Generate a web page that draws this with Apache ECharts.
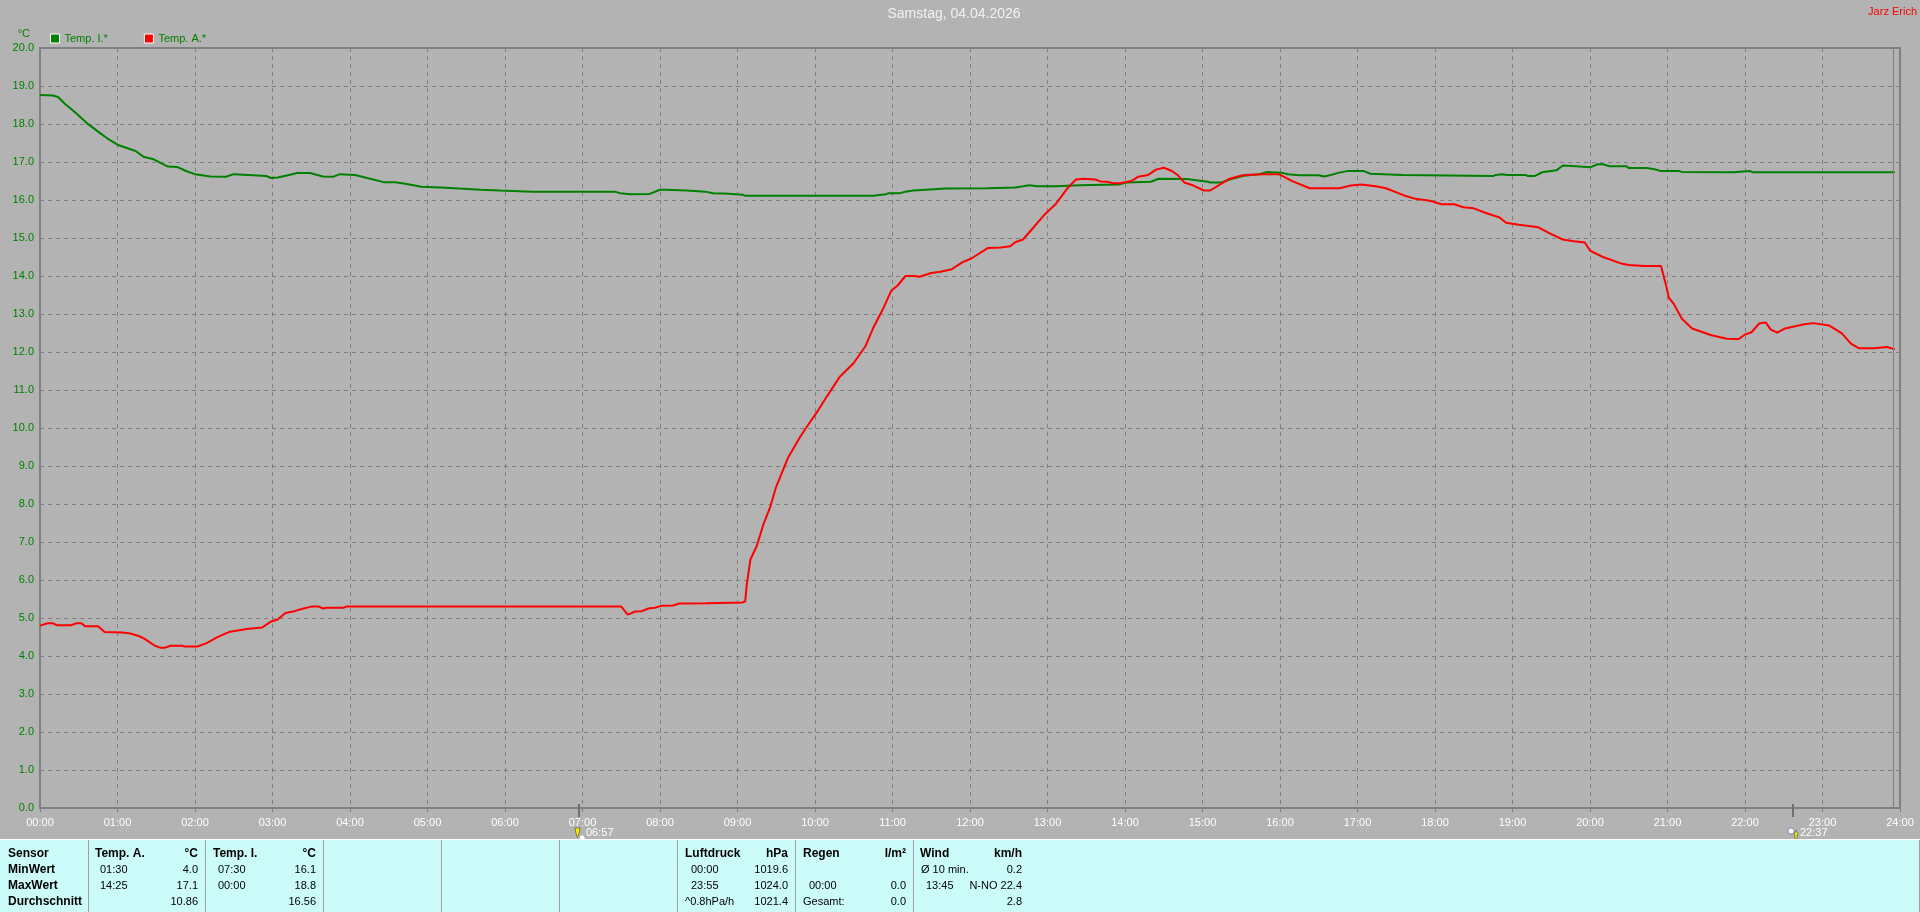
<!DOCTYPE html>
<html><head><meta charset="utf-8">
<style>html,body{margin:0;padding:0;background:#b3b3b3;overflow:hidden}#c{width:1920px;height:912px}</style>
<script src="https://cdn.jsdelivr.net/npm/echarts@6/dist/echarts.min.js"></script>
</head><body><div id="c"></div>
<script>
const tempIMinutes=[0,10,14,19,28,36,45,53,61,74,80,88,99,106,114,120,132,144,150,165,175,179,184,192,199,209,219,227,232,244,254,266,275,284,295,310,325,341,356,381,445,449,457,472,480,484,485,501,502,515,521,530,531,544,546,645,646,655,657,666,670,676,686,701,733,734,755,756,766,772,786,787,805,806,835,841,860,866,888,895,904,906,915,921,932,944,950,961,966,975,990,994,997,1006,1012,1025,1030,1040,1041,1055,1056,1125,1127,1132,1136,1150,1152,1157,1163,1174,1179,1189,1190,1200,1206,1210,1215,1228,1230,1244,1250,1255,1269,1271,1311,1312,1324,1326,1436];
const tempI=[18.76,18.75,18.71,18.54,18.28,18.03,17.8,17.6,17.44,17.29,17.14,17.07,16.88,16.87,16.75,16.68,16.62,16.61,16.68,16.65,16.63,16.58,16.59,16.65,16.71,16.71,16.62,16.61,16.68,16.66,16.57,16.47,16.47,16.42,16.35,16.33,16.3,16.27,16.25,16.22,16.22,16.18,16.15,16.16,16.27,16.27,16.25,16.25,16.22,16.22,16.18,16.17,16.14,16.14,16.11,16.11,16.15,16.15,16.18,16.18,16.22,16.25,16.27,16.3,16.31,16.33,16.33,16.36,16.39,16.36,16.36,16.39,16.39,16.41,16.41,16.46,16.48,16.56,16.55,16.52,16.48,16.46,16.46,16.54,16.64,16.68,16.74,16.72,16.68,16.65,16.65,16.62,16.64,16.72,16.76,16.76,16.69,16.68,16.66,16.66,16.63,16.63,16.66,16.68,16.66,16.66,16.63,16.63,16.73,16.78,16.91,16.89,16.86,16.86,16.94,16.94,16.89,16.89,16.84,16.84,16.81,16.76,16.76,16.74,16.73,16.76,16.76,16.73,16.73];
const tempAMinutes=[0,6,10,13,24,28,32,35,45,50,64,70,77,81,89,93,97,101,110,112,122,129,137,147,160,172,175,179,184,190,197,204,210,216,219,222,235,237,372,450,455,461,466,471,476,481,490,495,516,544,546,547,550,555,560,565,570,579,588,593,601,609,619,630,639,645,653,659,664,670,677,681,690,697,706,714,721,734,744,751,755,761,770,777,786,796,802,808,817,821,826,831,836,845,850,858,864,870,876,881,886,893,901,906,914,921,932,947,959,970,983,1006,1015,1023,1034,1042,1056,1065,1076,1085,1095,1102,1110,1120,1130,1135,1145,1160,1170,1179,1186,1196,1200,1210,1225,1230,1242,1255,1259,1261,1265,1271,1279,1294,1306,1315,1320,1325,1331,1336,1340,1345,1351,1366,1373,1385,1395,1402,1408,1420,1430,1436];
const tempA=[4.8,4.86,4.86,4.81,4.81,4.86,4.86,4.78,4.78,4.63,4.62,4.59,4.52,4.45,4.27,4.22,4.22,4.27,4.27,4.25,4.25,4.34,4.49,4.64,4.71,4.75,4.82,4.91,4.96,5.13,5.18,5.25,5.3,5.3,5.25,5.27,5.27,5.3,5.3,5.3,5.09,5.17,5.18,5.25,5.27,5.32,5.33,5.38,5.39,5.41,5.44,5.83,6.54,6.9,7.46,7.89,8.46,9.21,9.74,10,10.39,10.82,11.34,11.71,12.15,12.63,13.16,13.61,13.75,14,14,13.98,14.08,14.11,14.18,14.36,14.46,14.74,14.75,14.78,14.89,14.96,15.31,15.59,15.88,16.33,16.54,16.56,16.54,16.49,16.48,16.44,16.44,16.5,16.61,16.66,16.8,16.85,16.77,16.65,16.46,16.38,16.25,16.25,16.42,16.56,16.66,16.68,16.68,16.49,16.31,16.31,16.38,16.41,16.36,16.31,16.12,16.03,15.98,15.89,15.89,15.81,15.78,15.65,15.54,15.4,15.35,15.28,15.1,14.96,14.92,14.88,14.67,14.5,14.32,14.29,14.26,14.26,13.74,13.43,13.26,12.88,12.62,12.44,12.35,12.34,12.46,12.52,12.75,12.78,12.59,12.51,12.62,12.73,12.76,12.7,12.49,12.22,12.1,12.1,12.13,12.07];
const lastSampleMinute=1435;
const sunriseMinute=417, sunriseLabel='06:57';
const sunsetMinute=1357, sunsetLabel='22:37';
const sensorRows=['Sensor','MinWert','MaxWert','Durchschnitt'];
const tempAHead=['Temp. A.','°C'],tempATimes=['01:30','14:25',''],tempAVals=['4.0','17.1','10.86'];
const tempIHead=['Temp. I.','°C'],tempITimes=['07:30','00:00',''],tempIVals=['16.1','18.8','16.56'];
const pressHead=['Luftdruck','hPa'],pressTimes=['00:00','23:55','^0.8hPa/h'],pressVals=['1019.6','1024.0','1021.4'];
const rainHead=['Regen','l/m²'],rainTimes=['','00:00','Gesamt:'],rainVals=['','0.0','0.0'];
const windHead=['Wind','km/h'],windTimes=['Ø 10 min.','13:45',''],windVals=['0.2','N-NO 22.4','2.8'];

const G='#008000',R='#ff0000',AX='#808080',BG='#b3b3b3',PANEL='#ccfcf9';
const FONT='"Liberation Sans",Arial,sans-serif';
const pad=n=>String(n).padStart(2,'0');
const zip=(a,b)=>a.map((v,i)=>[v,b[i]]);
const chart=echarts.init(document.getElementById('c'),null,{renderer:'canvas'});
const rowY=[854,870,885.5,901.5];
const txt=(t,x,y,o={})=>({type:'text',silent:true,z:20,style:{text:t,x,y,fill:o.fill||'#000',align:o.align||'left',verticalAlign:'middle',font:(o.bold?'bold 12px ':'11px ')+FONT}});
const cols=[
 {h:tempAHead,t:tempATimes,v:tempAVals,left:95,time:100,right:198},
 {h:tempIHead,t:tempITimes,v:tempIVals,left:213,time:218,right:316},
 {h:pressHead,t:pressTimes,v:pressVals,left:685,time:691,right:788},
 {h:rainHead,t:rainTimes,v:rainVals,left:803,time:809,right:906},
 {h:windHead,t:windTimes,v:windVals,left:920,time:926,right:1022}
];
const seps=[88,205,323,441,559,677,795,913];
function panel(){
 const g=[
  {type:'rect',silent:true,z:10,shape:{x:0,y:840,width:1920,height:72},style:{fill:PANEL}},
  {type:'rect',silent:true,z:11,shape:{x:0,y:839,width:1920,height:1},style:{fill:'#ffffff'}},
  {type:'rect',silent:true,z:11,shape:{x:1919,y:840,width:1,height:72},style:{fill:'#a0a0a0'}}
 ];
 seps.forEach(x=>g.push({type:'rect',silent:true,z:11,shape:{x,y:840,width:1,height:72},style:{fill:'#a0a0a0'}}));
 sensorRows.forEach((s,i)=>g.push(txt(s,8,rowY[i],{bold:true})));
 cols.forEach(c=>{
  g.push(txt(c.h[0],c.left,rowY[0],{bold:true}),txt(c.h[1],c.right,rowY[0],{bold:true,align:'right'}));
  c.t.forEach((t,i)=>{if(t)g.push(txt(t,/^\d/.test(t)?c.time:c.left+(t[0]==='Ø'?1:0),rowY[i+1]));});
  c.v.forEach((t,i)=>{if(t)g.push(txt(t,c.right,rowY[i+1],{align:'right'}));});
 });
 return g;
}
chart.setOption({
 animation:false,
 backgroundColor:BG,
 title:[
  {text:'Samstag, 04.04.2026',left:954,top:7,padding:0,textAlign:'center',textStyle:{color:'#f2f2f2',fontSize:14,fontWeight:'normal',fontFamily:FONT}},
  {text:'Jarz Erich',right:3,top:6,padding:0,textStyle:{color:R,fontSize:11,fontWeight:'normal',fontFamily:FONT}}
 ],
 legend:{left:45,top:28,itemWidth:9,itemHeight:9,itemGap:36,icon:'rect',
  data:[{name:'Temp. I.*',itemStyle:{color:G,borderColor:'#fff',borderWidth:1}},{name:'Temp. A.*',itemStyle:{color:R,borderColor:'#fff',borderWidth:1}}],
  textStyle:{color:G,fontSize:11,fontFamily:FONT,padding:[0,0,0,0]}},
 grid:{left:40,right:20,top:48,bottom:104,containLabel:false,show:true,borderColor:AX,borderWidth:2,backgroundColor:'transparent'},
 xAxis:{type:'value',min:0,max:1440,interval:60,
  axisLine:{show:true,lineStyle:{color:AX,width:2}},
  axisTick:{show:true,length:4,lineStyle:{color:AX,width:1}},
  axisLabel:{color:'#ffffff',fontSize:11,fontFamily:FONT,margin:9,showMaxLabel:true,showMinLabel:true,hideOverlap:false,formatter:v=>pad(v/60)+':00'},
  splitLine:{show:true,lineStyle:{color:AX,width:1,type:[4,4]}}},
 yAxis:{type:'value',min:0,max:20,interval:1,name:'°C',nameLocation:'end',nameGap:9,
  nameTextStyle:{color:G,fontSize:11,fontFamily:FONT,align:'right',padding:[0,10,0,0]},
  axisLine:{show:true,lineStyle:{color:AX,width:2}},
  axisTick:{show:false},
  axisLabel:{color:G,fontSize:11,fontFamily:FONT,margin:6,formatter:v=>v.toFixed(1)},
  splitLine:{show:true,lineStyle:{color:AX,width:1,type:[4,4]}}},
 series:[
  {name:'Temp. I.*',type:'line',showSymbol:false,symbol:'none',data:zip(tempIMinutes,tempI),lineStyle:{color:G,width:2},itemStyle:{color:G},z:3,
   markLine:{silent:true,symbol:'none',label:{show:false},lineStyle:{color:AX,width:1,type:'solid'},data:[{xAxis:lastSampleMinute}]}},
  {name:'Temp. A.*',type:'line',showSymbol:false,symbol:'none',data:zip(tempAMinutes,tempA),lineStyle:{color:R,width:2},itemStyle:{color:R},z:4}
 ],
 graphic:{elements:panel()}
});
const px=m=>Math.round(chart.convertToPixel({xAxisIndex:0},m));
function sunMarks(){
 const g=[];
 const base=808;
 [[sunriseMinute,sunriseLabel,true],[sunsetMinute,sunsetLabel,false]].forEach(([m,l,rise])=>{
  const x=px(m);
  g.push({type:'rect',silent:true,z:9,shape:{x:x-1,y:base-4,width:2,height:13},style:{fill:'#707070'}});
  g.push(txt(l,x+7,833,{fill:'#ffffff'}));
  if(rise){
   g.push({type:'polygon',silent:true,z:9,shape:{points:[[x-4,828],[x+1,828],[x,833],[x-1,837],[x-2,837],[x-3,833]]},style:{fill:'#ffee00',stroke:'#222',lineWidth:0.5}});
   g.push({type:'circle',silent:true,z:9,shape:{cx:x+3,cy:838,r:2.5},style:{fill:'#ffffff'}});
  }else{
   g.push({type:'circle',silent:true,z:9,shape:{cx:x-2,cy:831,r:3},style:{fill:'#ffffff',stroke:'#3040a0',lineWidth:0.5}});
   g.push({type:'polygon',silent:true,z:9,shape:{points:[[x+2,839],[x+2,835],[x+1,835],[x+3,830],[x+5,835],[x+4,835],[x+4,839]]},style:{fill:'#ffee00',stroke:'#222',lineWidth:0.4}});
  }
 });
 return g;
}
chart.setOption({graphic:{elements:panel().concat(sunMarks())}},{replaceMerge:['graphic']});
</script></body></html>
